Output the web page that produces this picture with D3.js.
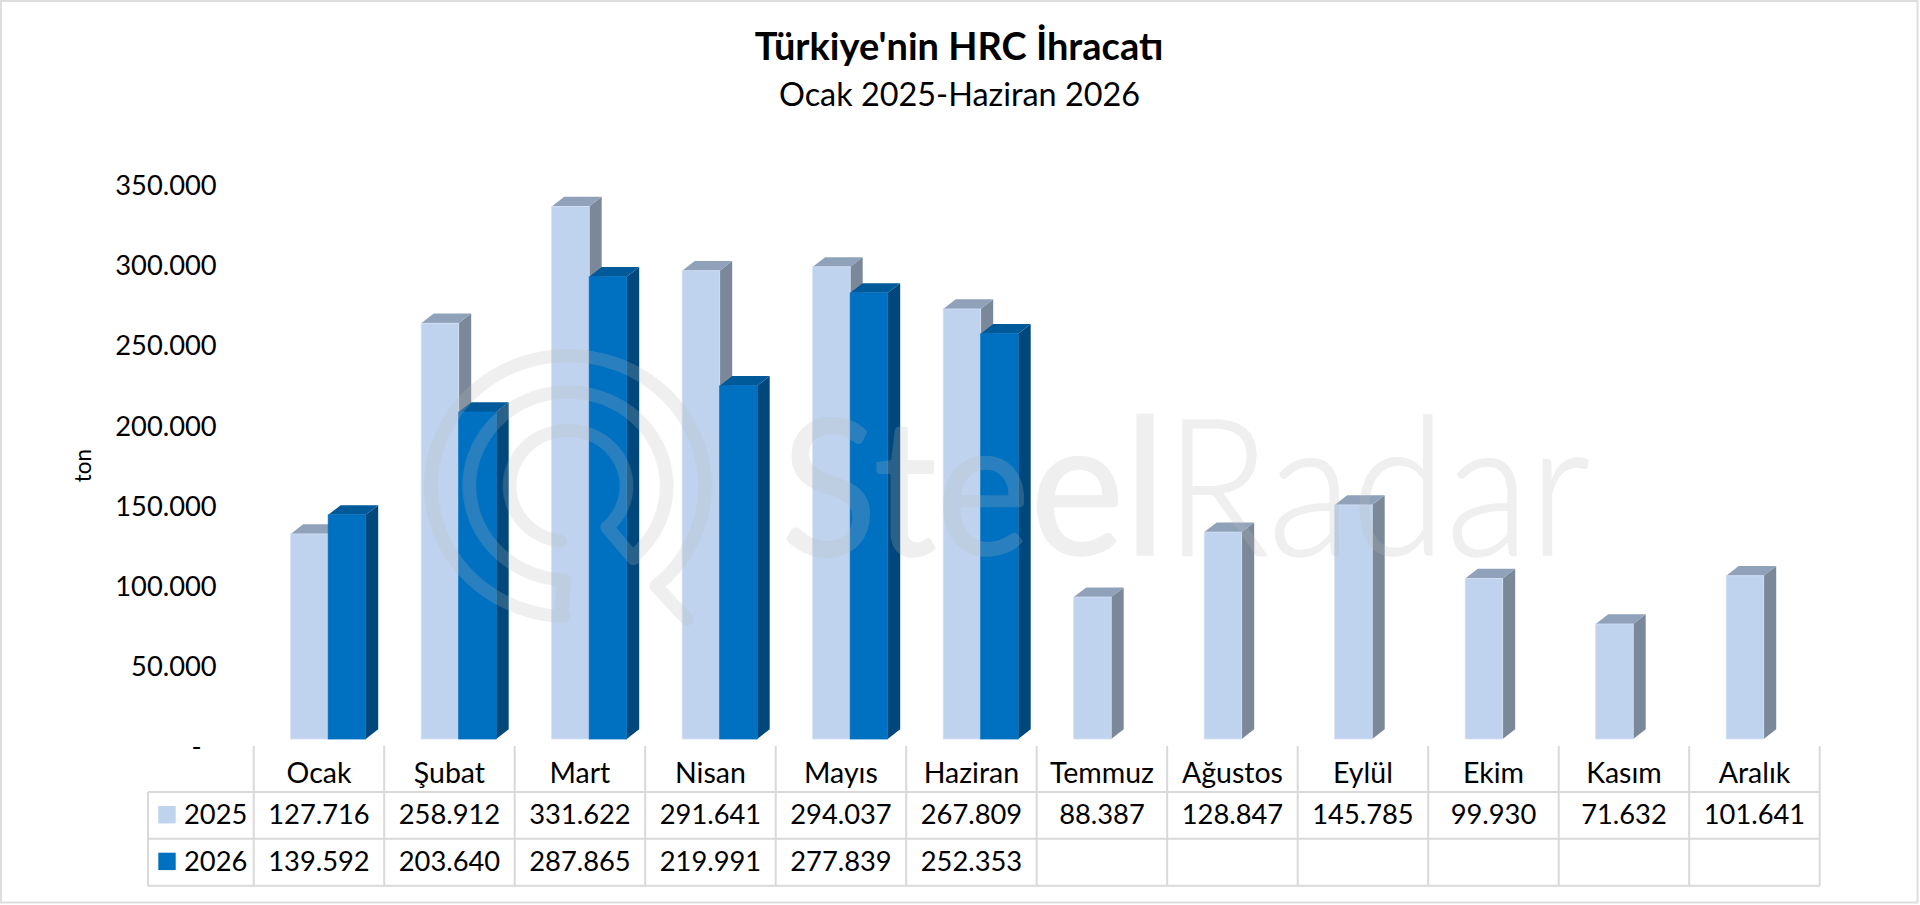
<!DOCTYPE html>
<html>
<head>
<meta charset="utf-8">
<script src="https://cdnjs.cloudflare.com/ajax/libs/d3/7.8.5/d3.min.js"></script>
<style>
  html, body { margin: 0; padding: 0; background: #fff; overflow: hidden; }
  svg { display: block; }
  text { font-family: Lato, "Open Sans", sans-serif; fill: #000; }
</style>
</head>
<body>
<svg id="chart" width="1920" height="905"></svg>
<script>
// Chart data
const months = ['Ocak', 'Şubat', 'Mart', 'Nisan', 'Mayıs', 'Haziran', 'Temmuz', 'Ağustos', 'Eylül', 'Ekim', 'Kasım', 'Aralık'];
const years = ['2025', '2026'];
const values2025 = [127716, 258912, 331622, 291641, 294037, 267809, 88387, 128847, 145785, 99930, 71632, 101641];
const values2026 = [139592, 203640, 287865, 219991, 277839, 252353, null, null, null, null, null, null];
const yTicks = [0, 50000, 100000, 150000, 200000, 250000, 300000, 350000];

const titleText = "Türkiye'nin HRC İhracatı";
const subtitleText = 'Ocak 2025-Haziran 2026';
const yLabel = 'ton';

// Colours per series: front, side and top face
const faceColors = {
  '2025': { front: '#BFD3EE', side: '#7A8899', top: '#8FA2BA', edge: '#D2DFF5' },
  '2026': { front: '#0070C0', side: '#00487C', top: '#005A9A', edge: '#0070C0' }
};

const svg = d3.select('#chart');

// Scales. The table columns share the band scale with the bars
const x = d3.scaleBand().domain(months).range([253.7, 1819.7]);
const xSeries = d3.scaleBand().domain(years).range([37, 112]);
const y = d3.scaleLinear().domain([0, 350000]).range([739, 177]);
const yAxisScale = d3.scaleLinear().domain([0, 350000]).range([746.6, 186]);

const depthX = 12.5;
const depthY = 9.7;

const fmt = d3.formatLocale({ decimal: ',', thousands: '.', grouping: [3], currency: ['', ''] }).format(',d');

// Outer frame
svg.append('rect')
  .attr('x', 1).attr('y', 1)
  .attr('width', 1916.5).attr('height', 901.5)
  .attr('fill', '#fff')
  .attr('stroke', '#DEDEDE')
  .attr('stroke-width', 2);

// Titles
svg.append('text')
  .attr('x', 959).attr('y', 60)
  .attr('text-anchor', 'middle')
  .attr('font-size', 38)
  .attr('font-weight', 700)
  .text(titleText);

svg.append('text')
  .attr('x', 959.5).attr('y', 105.5)
  .attr('text-anchor', 'middle')
  .attr('font-size', 32.4)
  .text(subtitleText);

// Y axis
const yAxis = svg.append('g')
  .attr('transform', 'translate(216.7,0)')
  .call(d3.axisLeft(yAxisScale)
    .tickValues(yTicks)
    .tickSize(0)
    .tickPadding(0)
    .tickFormat(d => d === 0 ? '-' : fmt(d)));
yAxis.select('.domain').remove();
yAxis.selectAll('text')
  .attr('font-size', 27.3)
  .attr('dx', d => d === 0 ? -15 : 0)
  .style('font-family', 'Lato, "Open Sans", sans-serif');

svg.append('text')
  .attr('transform', 'translate(91,465.5) rotate(-90)')
  .attr('text-anchor', 'middle')
  .attr('font-size', 22.5)
  .text(yLabel);

// Bars, 2025 first so the 2026 top face sits over the 2025 side face
function drawSeries(year, values) {
  const colors = faceColors[year];
  const rows = months
    .map((month, i) => ({ month, value: values[i] }))
    .filter(d => d.value !== null);

  const bar = svg.append('g').attr('class', 'series-' + year)
    .selectAll('g')
    .data(rows)
    .enter()
    .append('g');

  const left = d => x(d.month) + xSeries(year);
  const right = d => left(d) + xSeries.bandwidth();

  bar.append('path')
    .attr('fill', colors.side)
    .attr('d', d => d3.line()([
      [right(d), y(0)],
      [right(d) + depthX, y(0) - depthY],
      [right(d) + depthX, y(d.value) - depthY],
      [right(d), y(d.value)]
    ]) + 'Z');

  bar.append('path')
    .attr('fill', colors.top)
    .attr('d', d => d3.line()([
      [left(d), y(d.value)],
      [left(d) + depthX, y(d.value) - depthY],
      [right(d) + depthX, y(d.value) - depthY],
      [right(d), y(d.value)]
    ]) + 'Z');

  bar.append('rect')
    .attr('x', left)
    .attr('y', d => y(d.value))
    .attr('width', xSeries.bandwidth())
    .attr('height', d => y(0) - y(d.value))
    .attr('fill', colors.front)
    .attr('stroke', colors.edge)
    .attr('stroke-width', 0.8);
}

drawSeries('2025', values2025);
drawSeries('2026', values2026);

// Data table under the chart
const tableLeft = 148;
const tableRight = x.range()[1];
const headerTop = 746;
const rowLines = [792, 838.7, 885.7];
const lineColor = '#D9D9D9';

const table = svg.append('g').attr('class', 'data-table');

rowLines.forEach(ly => {
  table.append('line')
    .attr('x1', tableLeft).attr('x2', tableRight)
    .attr('y1', ly).attr('y2', ly)
    .attr('stroke', lineColor).attr('stroke-width', 2);
});

table.append('line')
  .attr('x1', tableLeft).attr('x2', tableLeft)
  .attr('y1', rowLines[0]).attr('y2', rowLines[2])
  .attr('stroke', lineColor).attr('stroke-width', 2);

months.concat([null]).forEach(m => {
  const lx = m === null ? tableRight : x(m);
  table.append('line')
    .attr('x1', lx).attr('x2', lx)
    .attr('y1', headerTop).attr('y2', rowLines[2])
    .attr('stroke', lineColor).attr('stroke-width', 2);
});

const cellCenter = m => x(m) + x.bandwidth() / 2;

table.selectAll('text.month')
  .data(months)
  .enter()
  .append('text')
  .attr('class', 'month')
  .attr('x', cellCenter)
  .attr('y', 783)
  .attr('text-anchor', 'middle')
  .attr('font-size', 28.5)
  .text(d => d);

[[years[0], values2025, 824], [years[1], values2026, 870.7]].forEach(([year, values, baseline]) => {
  table.append('rect')
    .attr('x', 158.3).attr('y', baseline - 18)
    .attr('width', 17.4).attr('height', 17.4)
    .attr('fill', faceColors[year].front);

  table.append('text')
    .attr('x', 184).attr('y', baseline)
    .attr('font-size', 27.3)
    .text(year);

  values.forEach((v, i) => {
    if (v === null) return;
    table.append('text')
      .attr('x', cellCenter(months[i]))
      .attr('y', baseline)
      .attr('text-anchor', 'middle')
      .attr('font-size', 27.3)
      .text(fmt(v));
  });
});

// SteelRadar watermark, sits over the bars
const rad = deg => deg * Math.PI / 180;
const watermark = svg.append('g')
  .attr('class', 'watermark')
  .attr('opacity', 0.23);

const logo = watermark.append('g')
  .attr('transform', 'translate(568,486) scale(1.05,1)')
  .attr('fill', 'none')
  .attr('stroke', '#B9B9B9')
  .attr('stroke-width', 13)
  .attr('stroke-linecap', 'round')
  .attr('stroke-linejoin', 'round');

const spiral = d3.path();
spiral.moveTo(63, 72);
spiral.arc(0, 0, 94, rad(47), rad(-268), true);
spiral.lineTo(-7, 130);
spiral.arc(0, 0, 130.5, rad(92), rad(410));
spiral.lineTo(113, 133);
logo.append('path').attr('d', spiral.toString());

const inner = d3.path();
inner.arc(0, 0, 55.7, rad(98), rad(408));
inner.lineTo(62.5, 72.7);
logo.append('path').attr('d', inner.toString());

watermark.append('text')
  .attr('x', 781).attr('y', 555)
  .attr('font-size', 191)
  .attr('textLength', 385)
  .attr('lengthAdjust', 'spacingAndGlyphs')
  .attr('stroke', '#B9B9B9')
  .attr('stroke-width', 1.5)
  .attr('stroke-linejoin', 'round')
  .style('fill', '#B9B9B9')
  .text('Steel');

watermark.append('text')
  .attr('x', 1165).attr('y', 555)
  .attr('font-size', 191)
  .attr('font-weight', 300)
  .attr('textLength', 425)
  .attr('lengthAdjust', 'spacingAndGlyphs')
  .attr('stroke', '#B9B9B9')
  .attr('stroke-width', 1.5)
  .attr('stroke-linejoin', 'round')
  .style('fill', '#B9B9B9')
  .text('Radar');
</script>
</body>
</html>
